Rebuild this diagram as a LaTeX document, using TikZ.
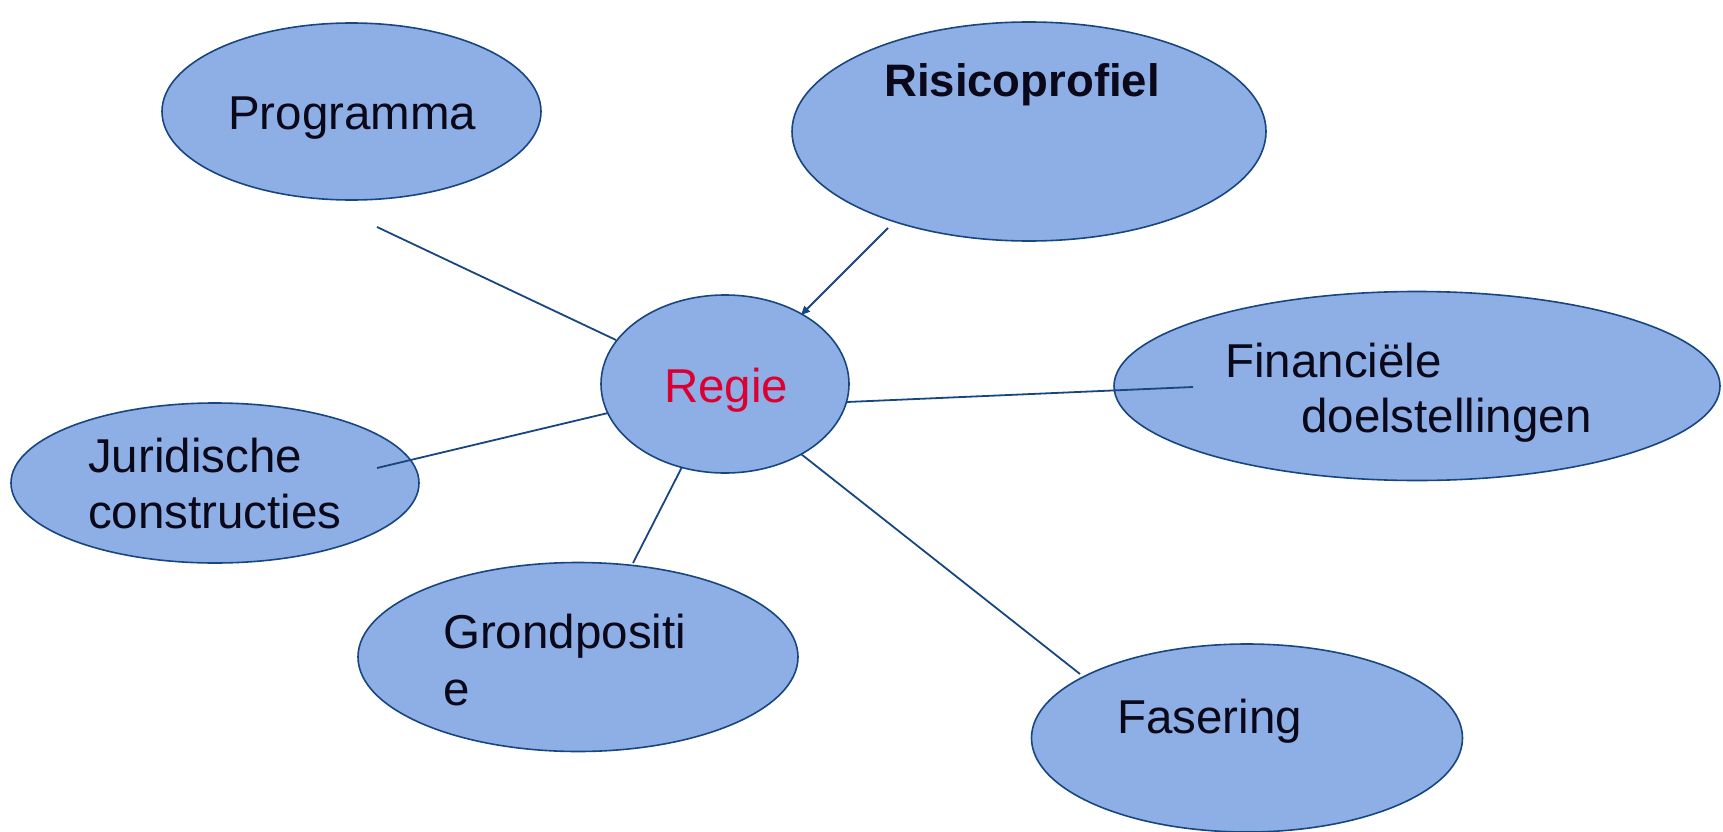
\documentclass[tikz,border=0pt]{standalone}
\usepackage{fontspec}
\setmainfont{Liberation Sans}
\usetikzlibrary{shapes.geometric,arrows.meta}
\definecolor{ellfill}{RGB}{142,174,230}
\definecolor{ellline}{RGB}{24,70,128}
\definecolor{regiered}{RGB}{220,0,50}
\definecolor{txt}{RGB}{10,8,25}
\tikzset{
  bubble/.style={ellipse,draw=ellline,fill=ellfill,line width=1.6pt,inner sep=0pt},
  lbl/.style={anchor=base west,inner sep=0pt,text=txt,font=\fontsize{47.5}{57}\selectfont},
  conn/.style={draw=ellline,line width=1.8pt}
}
\begin{document}
\begin{tikzpicture}[x=1pt,y=-1pt]
\useasboundingbox (0,0) rectangle (1723,832);
% ellipses
\node[bubble,minimum width=379pt,minimum height=177pt] (prog) at (351.5,111.5) {};
\node[bubble,minimum width=474pt,minimum height=219pt] (risico) at (1029,131.5) {};
\node[bubble,minimum width=606pt,minimum height=189pt] (fin) at (1417,386) {};
\node[bubble,minimum width=408pt,minimum height=160pt] (jur) at (215,483) {};
\node[bubble,minimum width=440pt,minimum height=189pt] (grond) at (578,657) {};
\node[bubble,minimum width=431pt,minimum height=188pt] (fas) at (1247,738) {};
\node[bubble,minimum width=248pt,minimum height=178pt] (regie) at (725,384) {};
% labels
\node[lbl] (tprog) at (228,130) {Programma};
\node[lbl,font=\fontsize{45.5}{55}\selectfont\bfseries] (trisico) at (884,97) {Risicoprofiel};
\node[lbl,text=regiered] (tregie) at (664,402) {Regie};
\node[lbl] (tfin1) at (1225,377) {Financiële};
\node[lbl] (tfin2) at (1301,432) {doelstellingen};
\node[lbl] (tjur1) at (88,472) {Juridische};
\node[lbl] (tjur2) at (88,528) {constructies};
\node[lbl] (tgr1) at (443,648) {Grondpositi};
\node[lbl] (tgr2) at (443,705) {e};
\node[lbl] (tfas) at (1117,733) {Fasering};
% connector ends
\coordinate (c1a) at (377,227); \coordinate (c1b) at (616,340);
\coordinate (c2a) at (888,228); \coordinate (c2b) at (801,315);
\coordinate (c3a) at (847,402); \coordinate (c3b) at (1193,387);
\coordinate (c4a) at (608,413); \coordinate (c4b) at (377,468);
\coordinate (c5a) at (682,467); \coordinate (c5b) at (633,563);
\coordinate (c6a) at (801,454); \coordinate (c6b) at (1080,674);
\draw[conn] (c1a) -- (c1b);
\draw[conn,-{Triangle[length=9pt,width=8pt]}] (c2a) -- (c2b);
\draw[conn] (c3a) -- (c3b);
\draw[conn] (c4a) -- (c4b);
\draw[conn] (c5a) -- (c5b);
\draw[conn] (c6a) -- (c6b);
\end{tikzpicture}
\end{document}
